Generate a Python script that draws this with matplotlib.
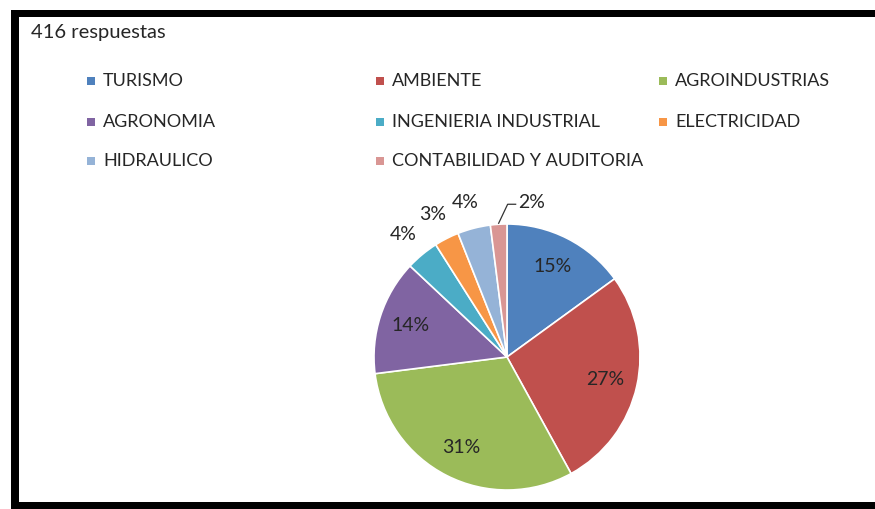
"""Pie chart of responses by career, with a three-column legend."""

import matplotlib.pyplot as plt
import numpy as np
from matplotlib.patches import Rectangle

plt.rcParams["font.family"] = ["Lato", "DejaVu Sans"]

TITLE = "416 respuestas"
categories = [
    "TURISMO", "AMBIENTE", "AGROINDUSTRIAS",
    "AGRONOMIA", "INGENIERIA INDUSTRIAL", "ELECTRICIDAD",
    "HIDRAULICO", "CONTABILIDAD Y AUDITORIA",
]
shares = [15, 27, 31, 14, 4, 3, 4, 2]
colors = [
    "#4F81BD", "#C0504D", "#9BBB59", "#8064A2",
    "#4BACC6", "#F79646", "#95B3D7", "#D99694",
]

W, H = 875, 509


def main() -> None:
    fig = plt.figure(figsize=(W / 100, H / 100), dpi=100, facecolor="white")
    ax = fig.add_axes([0, 0, 1, 1])

    cx, cy, r = 507, H - 357, 133
    wedges, texts, autotexts = ax.pie(
        shares,
        colors=colors,
        startangle=90,
        counterclock=False,
        center=(cx, cy),
        radius=r,
        autopct="%d%%",
        pctdistance=0.76,
        wedgeprops=dict(edgecolor="white", linewidth=1.2),
        textprops=dict(fontsize=14, color="#262626"),
    )
    ax.set_xlim(0, W)
    ax.set_ylim(0, H)
    ax.set_aspect("equal")
    ax.axis("off")

    # small slices get their labels outside the pie
    for i in (4, 5, 6, 7):
        w = wedges[i]
        mid = np.deg2rad((w.theta1 + w.theta2) / 2)
        t = autotexts[i]
        if i == 7:
            # leader line: up from the slice, then a short flat tick
            ex, ey = cx + r * np.cos(mid), cy + r * np.sin(mid)
            ly = ey + 20
            ax.plot([ex, ex + 9, ex + 17], [ey + 1, ly, ly], color="#333333", lw=0.9)
            t.set_position((ex + 19, ly + 2))
            t.set_ha("left")
        else:
            d = r * 1.2
            t.set_position((cx + d * np.cos(mid) - 2, cy + d * np.sin(mid)))

    # legend laid out on a fixed grid
    col_x = [91, 380, 663]
    row_y = [81, 122, 161]
    for i, (name, c) in enumerate(zip(categories, colors)):
        x, y = col_x[i % 3], H - row_y[i // 3]
        ax.add_patch(Rectangle((x - 4, y - 4), 8, 8, color=c, lw=0))
        ax.text(x + 12, y, name, fontsize=13, color="#262626", va="center", ha="left")

    ax.text(31, H - 32, TITLE, fontsize=14.5, color="#262626", va="center", ha="left")

    # black frame on top, left and bottom
    ax.add_patch(Rectangle((11, H - 17), W - 11, 7, color="black", lw=0))
    ax.add_patch(Rectangle((11, 0), 8, H - 10, color="black", lw=0))
    ax.add_patch(Rectangle((11, 0), W - 11, 7, color="black", lw=0))

    fig.savefig("out.png", dpi=100)
    plt.close(fig)


if __name__ == "__main__":
    main()
